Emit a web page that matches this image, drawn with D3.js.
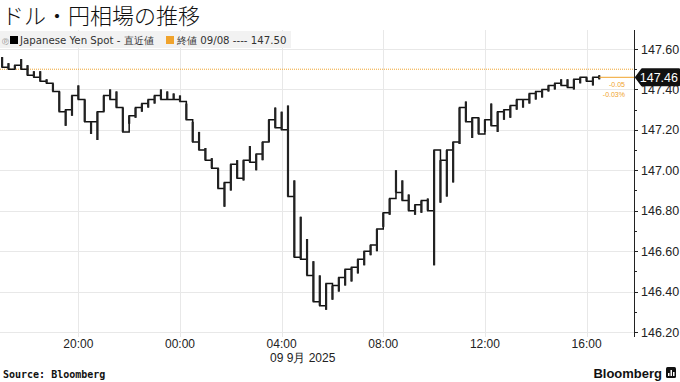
<!DOCTYPE html>
<html>
<head>
<meta charset="utf-8">
<script src="https://cdn.jsdelivr.net/npm/d3@7"></script>
<style>
  body { margin: 0; background: #fff; }
  svg { display: block; }
</style>
</head>
<body>
<svg id="chart" width="680" height="382"></svg>
<script>
// --- data (USD/JPY, 15-min high/low bars, 8 Sep 17:00 -> 9 Sep 16:30) ---
const hiVals = [
  147.56, 147.53, 147.52, 147.55, 147.52, 147.49, 147.49, 147.45, 147.43, 147.39,
  147.30, 147.37, 147.42, 147.35, 147.24, 147.29, 147.37, 147.40, 147.39, 147.31,
  147.27, 147.31, 147.33, 147.35, 147.37, 147.40, 147.39, 147.38, 147.37, 147.33,
  147.24, 147.19, 147.11, 147.06, 147.01, 146.94, 147.03, 147.05, 147.05, 147.12,
  147.08, 147.14, 147.25, 147.31, 147.29, 147.32, 146.95, 146.77, 146.66, 146.55,
  146.48, 146.44, 146.43, 146.47, 146.51, 146.52, 146.56, 146.60, 146.63, 146.71,
  146.79, 146.86, 147.00, 146.95, 146.88, 146.83, 146.85, 146.86, 147.10, 147.05,
  147.10, 147.14, 147.31, 147.34, 147.26, 147.26, 147.25, 147.33, 147.29, 147.30,
  147.32, 147.35, 147.35, 147.38, 147.39, 147.40, 147.42, 147.43, 147.45, 147.45,
  147.45, 147.46, 147.46, 147.46, 147.47
];
const loVals = [
  147.51, 147.50, 147.50, 147.50, 147.47, 147.46, 147.44, 147.43, 147.39, 147.29,
  147.22, 147.27, 147.35, 147.24, 147.18, 147.15, 147.29, 147.35, 147.31, 147.19,
  147.23, 147.26, 147.29, 147.31, 147.33, 147.35, 147.35, 147.35, 147.34, 147.25,
  147.14, 147.10, 147.05, 147.01, 146.91, 146.82, 146.90, 146.96, 146.95, 147.04,
  147.00, 147.05, 147.14, 147.21, 147.20, 146.87, 146.57, 146.56, 146.48, 146.35,
  146.33, 146.31, 146.36, 146.40, 146.43, 146.45, 146.49, 146.53, 146.58, 146.60,
  146.72, 146.78, 146.89, 146.85, 146.80, 146.78, 146.79, 146.80, 146.53, 146.84,
  146.87, 146.94, 147.13, 147.24, 147.16, 147.18, 147.19, 147.22, 147.19, 147.25,
  147.26, 147.30, 147.31, 147.33, 147.35, 147.36, 147.39, 147.40, 147.42, 147.41,
  147.40, 147.43, 147.44, 147.42, 147.45
];
const lastValue = 147.46;
const prevClose = 147.50;
const changeLabels = ["-0.05", "-0.03%"];
const yTicks = [146.20, 146.40, 146.60, 146.80, 147.00, 147.20, 147.40, 147.60];
const yMinorTicks = [146.30, 146.50, 146.70, 146.90, 147.10, 147.30, 147.50];
const xTickLabels = ["20:00", "00:00", "04:00", "08:00", "12:00", "16:00"];

const parse = d3.timeParse("%Y-%m-%d %H:%M");
const startTime = parse("2025-09-08 17:00");
const times = d3.timeMinute.every(15).range(startTime, parse("2025-09-09 16:31"));
const xTickTimes = [
  "2025-09-08 20:00", "2025-09-09 00:00", "2025-09-09 04:00",
  "2025-09-09 08:00", "2025-09-09 12:00", "2025-09-09 16:00"
].map(parse);

const bars = times.map((t, i) => ({ t, hi: hiVals[i], lo: loVals[i] }));

// --- layout ---
const svg = d3.select("#chart");
const plot = { left: 0, right: 634, top: 30, bottom: 337 };
const orange = "#f0a32c";
const gridColor = "#e8e8e8";

const x = d3.scaleTime()
  .domain([parse("2025-09-08 16:55"), parse("2025-09-09 17:52")])
  .range([plot.left, plot.right]);
const y = d3.scaleLinear()
  .domain([146.20, 147.60])
  .range([332, 49]);

// title
svg.append("text")
  .attr("x", 2).attr("y", 24)
  .attr("font-family", "Noto Sans CJK JP")
  .attr("font-weight", 300)
  .attr("font-size", 22)
  .attr("fill", "#111")
  .text("ドル・円相場の推移");

// gridlines
const grid = svg.append("g");
grid.selectAll("line.h")
  .data(yTicks)
  .join("line")
  .attr("x1", plot.left).attr("x2", plot.right)
  .attr("y1", d => Math.round(y(d)) + 0.5).attr("y2", d => Math.round(y(d)) + 0.5)
  .attr("stroke", gridColor);
grid.selectAll("line.v")
  .data(xTickTimes)
  .join("line")
  .attr("x1", d => Math.round(x(d)) + 0.5).attr("x2", d => Math.round(x(d)) + 0.5)
  .attr("y1", plot.top).attr("y2", plot.bottom)
  .attr("stroke", gridColor);

// legend band
const legend = svg.append("g");
legend.append("rect")
  .attr("x", 0).attr("y", 31).attr("width", 291).attr("height", 17)
  .attr("fill", "#f2f2f2");
legend.append("text")
  .attr("x", 2).attr("y", 44)
  .attr("font-family", "DejaVu Sans").attr("font-size", 7)
  .attr("fill", "#888").text("\u24df");
legend.append("rect")
  .attr("x", 10).attr("y", 36).attr("width", 8).attr("height", 8)
  .attr("fill", "#000");
legend.append("text")
  .attr("x", 20).attr("y", 44)
  .attr("font-family", "DejaVu Sans").attr("font-size", 10.2)
  .attr("fill", "#333")
  .text("Japanese Yen Spot - 直近値");
legend.append("rect")
  .attr("x", 166).attr("y", 36).attr("width", 8).attr("height", 8)
  .attr("fill", orange);
legend.append("text")
  .attr("x", 177).attr("y", 44)
  .attr("font-family", "DejaVu Sans").attr("font-size", 10.2)
  .attr("fill", "#333")
  .text("終値 09/08 ---- 147.50");

// previous close dotted line
svg.append("line")
  .attr("x1", plot.left).attr("x2", plot.right)
  .attr("y1", y(prevClose)).attr("y2", y(prevClose))
  .attr("stroke", orange).attr("stroke-width", 1)
  .attr("stroke-dasharray", "1,1");

// price path: staircase through each bar's low/high
const pts = [];
bars.forEach((b, i) => {
  const next = bars[i + 1];
  const mid = (b.hi + b.lo) / 2;
  const goingUp = next ? (next.hi + next.lo) / 2 > mid : true;
  if (goingUp) { pts.push([b.t, b.lo]); pts.push([b.t, b.hi]); }
  else { pts.push([b.t, b.hi]); pts.push([b.t, b.lo]); }
});
const line = d3.line()
  .x(d => x(d[0])).y(d => y(d[1]))
  .curve(d3.curveStepAfter);
svg.append("path")
  .attr("d", line(pts))
  .attr("fill", "none")
  .attr("stroke", "#111")
  .attr("stroke-width", 1.5);
svg.append("g").selectAll("line")
  .data(bars)
  .join("line")
  .attr("x1", d => x(d.t)).attr("x2", d => x(d.t))
  .attr("y1", d => y(d.hi)).attr("y2", d => y(d.lo))
  .attr("stroke", "#222").attr("stroke-width", 2.2);

// last value guide line
const lastBar = bars[bars.length - 1];
svg.append("line")
  .attr("x1", x(lastBar.t)).attr("x2", plot.right)
  .attr("y1", y(lastValue)).attr("y2", y(lastValue))
  .attr("stroke", orange).attr("stroke-width", 1);
svg.selectAll("text.chg")
  .data(changeLabels)
  .join("text")
  .attr("class", "chg")
  .attr("x", 625).attr("y", (d, i) => 87 + i * 10)
  .attr("text-anchor", "end")
  .attr("font-family", "Liberation Sans").attr("font-size", 7)
  .attr("fill", orange)
  .text(d => d);

// right axis
const axis = svg.append("g").attr("transform", `translate(${plot.right},0)`);
axis.append("line")
  .attr("x1", 0.5).attr("x2", 0.5)
  .attr("y1", plot.top).attr("y2", plot.bottom)
  .attr("stroke", "#222");
axis.selectAll("line.major")
  .data(yTicks)
  .join("line")
  .attr("x1", 0).attr("x2", 4)
  .attr("y1", d => Math.round(y(d)) + 0.5).attr("y2", d => Math.round(y(d)) + 0.5)
  .attr("stroke", "#222");
axis.selectAll("line.minor")
  .data(yMinorTicks)
  .join("line")
  .attr("x1", 0).attr("x2", 3)
  .attr("y1", d => Math.round(y(d)) + 0.5).attr("y2", d => Math.round(y(d)) + 0.5)
  .attr("stroke", "#222");
axis.selectAll("text")
  .data(yTicks)
  .join("text")
  .attr("x", 7).attr("y", d => y(d) + 4.5)
  .attr("font-family", "Liberation Sans").attr("font-size", 12.5)
  .attr("fill", "#222")
  .text(d => d.toFixed(2));

// last value tag
const ty = y(lastValue);
const tag = svg.append("g");
tag.append("path")
  .attr("d", `M${plot.right + 2},${ty} L${plot.right + 8},${ty - 8} L679,${ty - 8} L679,${ty + 8} L${plot.right + 8},${ty + 8} Z`)
  .attr("fill", "#111")
  .attr("stroke", "#111").attr("stroke-width", 2).attr("stroke-linejoin", "round");
tag.append("text")
  .attr("x", 678).attr("y", ty + 4.5)
  .attr("text-anchor", "end")
  .attr("font-family", "Liberation Sans").attr("font-size", 12.5)
  .attr("fill", "#fff")
  .text(lastValue.toFixed(2));

// x axis labels
svg.append("g").selectAll("text")
  .data(xTickTimes)
  .join("text")
  .attr("x", d => x(d)).attr("y", 348)
  .attr("text-anchor", "middle")
  .attr("font-family", "Liberation Sans").attr("font-size", 12)
  .attr("fill", "#222")
  .text((d, i) => xTickLabels[i]);
svg.append("text")
  .attr("x", 270).attr("y", 362)
  .attr("font-family", "Liberation Sans").attr("font-size", 12)
  .attr("fill", "#222")
  .text("09 9月 2025");

// footer
svg.append("text")
  .attr("x", 3).attr("y", 378)
  .attr("font-family", "DejaVu Sans Mono").attr("font-weight", "bold")
  .attr("font-size", 10)
  .attr("fill", "#111")
  .text("Source: Bloomberg");
svg.append("text")
  .attr("x", 662).attr("y", 378)
  .attr("text-anchor", "end")
  .attr("font-family", "Liberation Sans Narrow, Liberation Sans").attr("font-weight", "bold")
  .attr("font-size", 13)
  .attr("fill", "#111")
  .text("Bloomberg");
svg.append("rect")
  .attr("x", 666).attr("y", 367).attr("width", 10).attr("height", 11).attr("rx", 1.5)
  .attr("fill", "#111");
svg.append("g").selectAll("rect")
  .data([3, 6, 4])
  .join("rect")
  .attr("x", (d, i) => 668 + i * 2.5).attr("y", d => 376 - d)
  .attr("width", 1.5).attr("height", d => d)
  .attr("fill", "#fff");
</script>
</body>
</html>
